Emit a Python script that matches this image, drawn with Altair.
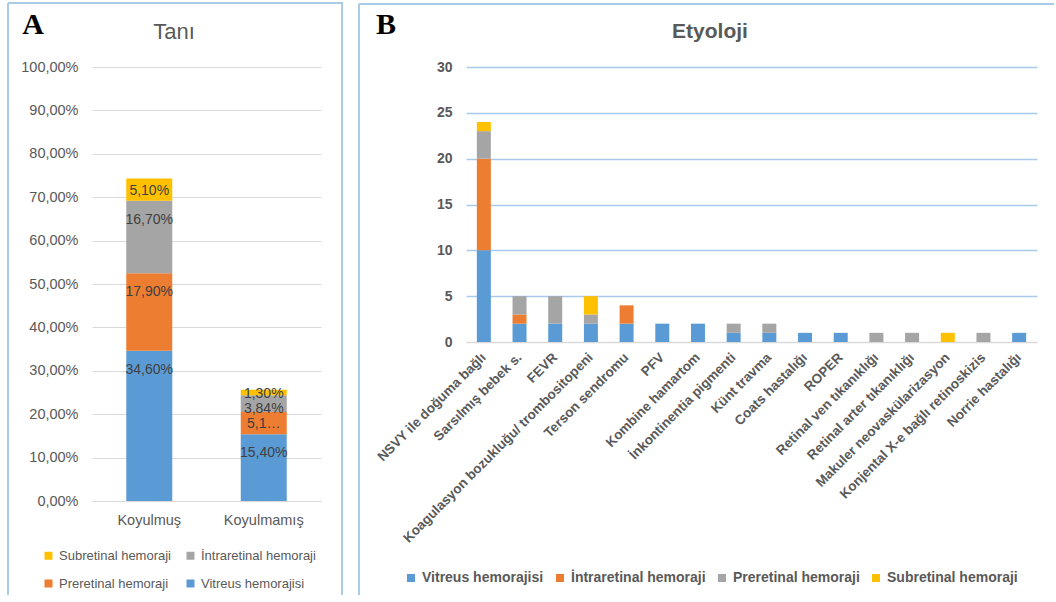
import altair as alt
import pandas as pd

# ---------------- Panel A: Tanı ----------------
tani_groups = ["Koyulmuş", "Koyulmamış"]
tani_series = ["Vitreus hemorajisi", "Preretinal hemoraji", "İntraretinal hemoraji", "Subretinal hemoraji"]
koyulmus_values = [34.60, 17.90, 16.70, 5.10]
koyulmamis_values = [15.40, 5.10, 3.84, 1.30]
koyulmus_labels = ["34,60%", "17,90%", "16,70%", "5,10%"]
koyulmamis_labels = ["15,40%", "5,1…", "3,84%", "1,30%"]
tani_legend_order = ["Subretinal hemoraji", "İntraretinal hemoraji", "Preretinal hemoraji", "Vitreus hemorajisi"]
tani_colors = ["#ffc000", "#a5a5a5", "#ed7d31", "#5b9bd5"]
tani_ticks = [0, 10, 20, 30, 40, 50, 60, 70, 80, 90, 100]

# ---------------- Panel B: Etyoloji ----------------
etyoloji_causes = [
    "NSVY ile doğuma bağlı",
    "Sarsılmış bebek s.",
    "FEVR",
    "Koagulasyon bozukluğu/ trombositopeni",
    "Terson sendromu",
    "PFV",
    "Kombine hamartom",
    "İnkontinentia pigmenti",
    "Künt travma",
    "Coats hastalığı",
    "ROPER",
    "Retinal ven tıkanıklığı",
    "Retinal arter tıkanıklığı",
    "Makuler neovaskülarizasyon",
    "Konjental X-e bağlı retinoskizis",
    "Norrie hastalığı",
]
vitreus_counts = [10, 2, 2, 2, 2, 2, 2, 1, 1, 1, 1, 0, 0, 0, 0, 1]
intraretinal_counts = [10, 1, 0, 0, 2, 0, 0, 0, 0, 0, 0, 0, 0, 0, 0, 0]
preretinal_counts = [3, 2, 3, 1, 0, 0, 0, 1, 1, 0, 0, 1, 1, 0, 1, 0]
subretinal_counts = [1, 0, 0, 2, 0, 0, 0, 0, 0, 0, 0, 0, 0, 1, 0, 0]
etyoloji_series = ["Vitreus hemorajisi", "İntraretinal hemoraji", "Preretinal hemoraji", "Subretinal hemoraji"]
etyoloji_colors = ["#5b9bd5", "#ed7d31", "#a5a5a5", "#ffc000"]
etyoloji_ticks = [0, 5, 10, 15, 20, 25, 30]

TEXT = "#595959"
BORDER = "#a9cbe9"
FONT = "Liberation Sans"

# ---- table A ----
rows_a = []
for grp, vals, labs in [(tani_groups[0], koyulmus_values, koyulmus_labels),
                        (tani_groups[1], koyulmamis_values, koyulmamis_labels)]:
    cum = 0.0
    grp_rows = []
    for s, v, l in zip(tani_series, vals, labs):
        start, end = cum, cum + v
        mid = (start + end) / 2
        grp_rows.append({"group": grp, "series": s, "start": start, "end": end,
                         "label": l, "label_y": max(mid, end - 4.15)})
        cum = end
    # keep labels of one bar from running into each other (top-down)
    for i in range(len(grp_rows) - 2, -1, -1):
        grp_rows[i]["label_y"] = min(grp_rows[i]["label_y"], grp_rows[i + 1]["label_y"] - 3.5)
    rows_a.extend(grp_rows)
df_a = pd.DataFrame(rows_a)

# ---- table B ----
rows_b = []
for i, cause in enumerate(etyoloji_causes):
    for k, (s, arr) in enumerate(zip(etyoloji_series,
                                     [vitreus_counts, intraretinal_counts, preretinal_counts, subretinal_counts])):
        if arr[i] > 0:
            rows_b.append({"cause": cause, "series": s, "value": arr[i], "sidx": k})
df_b = pd.DataFrame(rows_b)

one = pd.DataFrame({"k": [0]})

# ================= Panel A chart =================
WA, HA = 229, 434
base_a = alt.Chart(df_a)
x_a = alt.X("group:N", sort=tani_groups,
            scale=alt.Scale(paddingInner=0.6, paddingOuter=0.3),
            axis=alt.Axis(title=None, labelAngle=0, labelFontSize=14.5, labelColor=TEXT,
                          labelPadding=12, ticks=False, domainColor="#d9d9d9"))
bars_a = base_a.mark_bar(size=46).encode(
    x=x_a,
    y=alt.Y("start:Q", scale=alt.Scale(domain=[0, 100], nice=False),
            axis=alt.Axis(title=None, values=tani_ticks, domain=False, ticks=False,
                          labelFontSize=14.5, labelColor=TEXT, labelPadding=14,
                          gridColor="#d9d9d9",
                          labelExpr="replace(format(datum.value, '.2f'), '.', ',') + '%'")),
    y2="end:Q",
    color=alt.Color("series:N", scale=alt.Scale(domain=tani_legend_order, range=tani_colors),
                    legend=alt.Legend(title=None, orient="none", legendX=-50, legendY=482,
                                      columns=2, direction="horizontal",
                                      symbolType="square", symbolSize=64, symbolStrokeWidth=0,
                                      labelFontSize=13, labelColor=TEXT, labelOffset=4,
                                      rowPadding=14, columnPadding=12)),
)
text_a = base_a.mark_text(fontSize=14, color="#404040", baseline="middle", dy=1).encode(
    x=alt.X("group:N", sort=tani_groups),
    y=alt.Y("label_y:Q", title=None),
    text="label:N",
)
border_a = alt.layer(
    alt.Chart(one).mark_rule(color=BORDER, strokeWidth=2).encode(
        x=alt.value(-84), y=alt.value(-64), y2=alt.value(528)),
    alt.Chart(one).mark_rule(color=BORDER, strokeWidth=2).encode(
        x=alt.value(250), y=alt.value(-64), y2=alt.value(528)),
    alt.Chart(one).mark_rule(color=BORDER, strokeWidth=2).encode(
        x=alt.value(-84), x2=alt.value(251), y=alt.value(-64)),
)
letter_a = alt.Chart(one).mark_text(text="A", font="Liberation Serif", fontWeight="bold",
                                    fontSize=30, color="#000000").encode(
    x=alt.value(-59), y=alt.value(-42))
title_a = alt.Chart(one).mark_text(text="Tanı", fontSize=22, color=TEXT).encode(
    x=alt.value(82), y=alt.value(-35))

chart_a = alt.layer(bars_a, text_a, border_a, letter_a, title_a).properties(width=WA, height=HA)

# ================= Panel B chart =================
WB, HB = 571, 275
base_b = alt.Chart(df_b)
bars_b = base_b.mark_bar(size=14).encode(
    x=alt.X("cause:N", sort=etyoloji_causes,
            scale=alt.Scale(paddingInner=0.6, paddingOuter=0.3),
            axis=alt.Axis(title=None, labelAngle=-45, labelAlign="right", labelBaseline="middle",
                          labelFontSize=13.5, labelFontWeight="bold", labelColor=TEXT,
                          labelPadding=13, ticks=False, domainColor="#d9d9d9", labelLimit=400)),
    y=alt.Y("value:Q", stack="zero", scale=alt.Scale(domain=[0, 30], nice=False),
            axis=alt.Axis(title=None, values=etyoloji_ticks, domain=False, ticks=False,
                          labelFontSize=14, labelFontWeight="bold", labelColor=TEXT,
                          labelPadding=14,
                          gridColor={"condition": {"test": "datum.value === 0", "value": "#d9d9d9"},
                                     "value": "#a9c9e9"},
                          gridWidth=1.5)),
    color=alt.Color("series:N", scale=alt.Scale(domain=etyoloji_series, range=etyoloji_colors),
                    legend=alt.Legend(title=None, orient="none", legendX=-62, legendY=504,
                                      direction="horizontal",
                                      symbolType="square", symbolSize=64, symbolStrokeWidth=0,
                                      labelFontSize=14, labelFontWeight="bold", labelColor=TEXT,
                                      labelOffset=4, columnPadding=9)),
    order=alt.Order("sidx:Q"),
)
border_b = alt.layer(
    alt.Chart(one).mark_rule(color=BORDER, strokeWidth=2).encode(
        x=alt.value(-107), y=alt.value(-63), y2=alt.value(528)),
    alt.Chart(one).mark_rule(color=BORDER, strokeWidth=2).encode(
        x=alt.value(-107), x2=alt.value(588), y=alt.value(-63)),
)
letter_b = alt.Chart(one).mark_text(text="B", font="Liberation Serif", fontWeight="bold",
                                    fontSize=30, color="#000000").encode(
    x=alt.value(-80), y=alt.value(-42))
title_b = alt.Chart(one).mark_text(text="Etyoloji", fontSize=21, fontWeight="bold", color=TEXT).encode(
    x=alt.value(244), y=alt.value(-35))

chart_b = alt.layer(bars_b, border_b, letter_b, title_b).properties(width=WB, height=HB)

chart = (
    alt.hconcat(chart_a, chart_b, spacing=145, bounds="flush")
    .resolve_scale(color="independent", x="independent", y="independent")
    .properties(padding={"left": 7, "top": 2, "right": 0, "bottom": 0}, background="white")
    .configure(font=FONT)
    .configure_view(stroke=None)
)

chart.save("out.html", embed_options={"renderer": "svg", "actions": False})
